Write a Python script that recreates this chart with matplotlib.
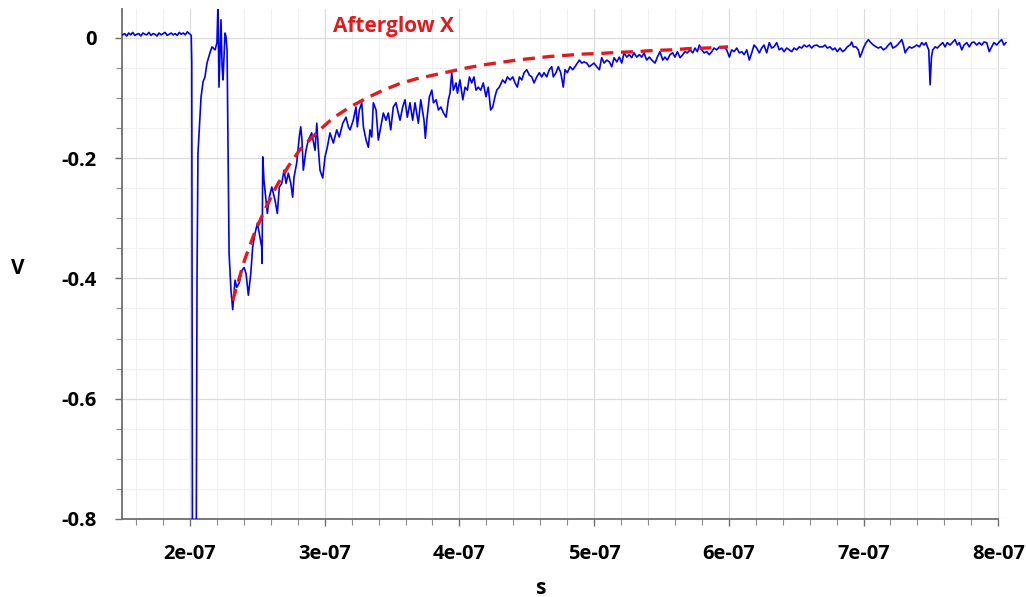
import matplotlib
matplotlib.use("Agg")
import matplotlib.pyplot as plt
from matplotlib.ticker import MultipleLocator, FuncFormatter

plt.rcParams["font.family"] = ["Open Sans", "DejaVu Sans"]

# ── Data (time in ns, signal in V) ───────────────────────────────────────────
trace_t_ns = [
    150.0, 151.5, 153.0, 154.5, 156.0, 157.5, 159.0, 160.5, 162.0, 163.5,
    165.0, 166.5, 168.0, 169.5, 171.0, 172.5, 174.0, 175.5, 177.0, 178.5,
    180.0, 181.5, 183.0, 184.5, 186.0, 187.5, 189.0, 190.5, 192.0, 193.5,
    195.0, 196.5, 198.0, 199.5,
    200.9, 201.3, 201.8, 203.0, 204.6, 205.2, 205.9, 208.2, 209.7, 211.1,
    212.6, 214.8, 216.3, 218.6, 220.0, 220.8, 221.5, 222.3, 223.0, 223.8,
    224.5, 226.0, 226.7, 227.5, 229.0, 230.4, 231.7,
    233.4, 234.7, 236.6, 238.4, 240.1, 241.6, 243.3, 245.1, 246.5, 248.3,
    250.0, 251.4, 253.2, 253.5, 254.0, 254.9, 256.4, 257.4, 258.9, 260.7,
    263.1, 264.8, 266.3, 268.1, 269.8, 271.3, 273.0, 274.8, 276.2, 277.2,
    279.2, 281.1, 282.2, 283.1, 284.1, 286.1, 287.8, 290.3, 292.8, 294.1,
    295.2, 296.5, 298.5, 300.2, 301.9, 303.9, 306.4, 308.9, 310.8, 313.4,
    315.8, 317.5,
    318.8, 321.2, 323.2, 324.2, 325.7, 327.5, 328.7, 330.7, 332.4, 333.6,
    334.9, 336.1, 338.1, 339.8, 341.6, 343.5, 345.5, 347.2, 349.0, 350.9,
    352.9, 354.6, 355.9, 357.9, 359.6, 361.3, 363.3, 365.3, 367.0, 369.5,
    371.3, 372.8, 373.7, 374.7, 375.8, 377.7, 379.5, 380.7, 382.7, 384.4,
    386.2, 388.2, 390.1, 391.8, 393.0, 394.3, 395.5, 397.5, 398.5, 400.4,
    402.5, 404.2, 405.9, 407.4, 409.1, 410.8, 412.3, 414.0, 415.8, 417.7,
    419.7, 421.4, 423.2, 424.7, 426.4, 427.7, 429.6,
    432.1, 433.9, 435.6, 437.6, 439.6, 441.3, 443.0, 444.5, 446.3, 448.0,
    450.0, 451.9, 453.7, 455.4, 457.4, 459.3, 461.1, 462.8, 464.8, 466.7,
    468.5, 469.7, 471.7, 473.4, 475.2, 477.1, 478.4, 480.1, 482.1, 484.1,
    485.8, 487.5, 489.0, 490.8, 492.5, 494.5, 496.4, 498.2, 499.9, 501.9,
    503.9, 505.6, 507.4, 509.4, 511.3, 513.1, 514.8, 516.8, 518.7, 520.5,
    522.2, 524.2, 526.1, 527.9, 529.6, 531.6, 533.6, 535.3, 537.0, 539.0,
    541.0,
    542.8, 545.2, 546.9, 548.9, 550.9, 552.6, 554.3, 556.3, 558.3, 560.0,
    561.8, 563.8, 565.8, 567.5, 569.2, 571.2, 573.2, 574.9, 576.6, 578.1,
    579.9, 581.6, 583.6, 585.5, 587.3, 589.0, 591.0, 593.0, 594.7, 596.5,
    598.4, 600.4, 602.1, 603.9, 605.9, 607.8, 609.6, 611.3, 613.3, 615.2,
    617.0, 618.7, 620.7, 622.6, 624.4, 626.1, 628.1, 630.0, 631.8, 633.5,
    635.5, 637.4, 639.2, 641.0, 642.9, 644.9, 646.7, 648.4, 650.4, 652.3,
    654.1, 655.8, 657.8, 659.7, 661.5, 663.3, 665.3, 667.2,
    669.7, 671.4, 673.1, 675.1, 677.1, 678.8, 680.5, 682.5, 684.5, 686.2,
    687.9, 689.9, 691.2, 692.4, 694.4, 696.1, 697.4, 698.7, 699.9, 701.9,
    703.6, 705.4, 707.3, 709.3, 711.0, 712.8, 714.7, 716.7, 718.4, 720.2,
    721.7, 723.4, 725.1, 726.6, 728.4, 729.6, 730.9, 732.1, 734.0, 735.8,
    737.5, 739.5, 741.5, 743.2, 744.9, 746.4, 747.4, 748.4, 749.4, 750.4,
    751.4, 753.1, 754.8, 756.8, 758.8, 760.5, 762.2, 764.2, 766.2, 767.9,
    769.6, 771.1, 772.9, 774.6, 776.6, 778.5, 780.3, 782.0, 784.0, 785.9,
    787.7, 789.4, 791.4, 793.3, 795.1, 796.8, 798.8, 800.7, 802.5, 804.2,
    805.7,
]
trace_v = [
    0.005, 0.007, 0.003, 0.008, 0.005, 0.009, 0.004, 0.006, 0.007, 0.003,
    0.008, 0.006, 0.005, 0.009, 0.004, 0.007, 0.006, 0.003, 0.008, 0.005,
    0.007, 0.009, 0.004, 0.006, 0.008, 0.005, 0.007, 0.004, 0.009, 0.006,
    0.008, 0.005, 0.010, 0.007,
    0.004, -0.040, -0.860, -0.880, -0.860, -0.400, -0.192, -0.098, -0.073, -0.065,
    -0.042, -0.025, -0.015, -0.020, -0.008, 0.060, -0.082, -0.020, 0.030, -0.048,
    -0.070, 0.008, 0.002, -0.020, -0.358, -0.420, -0.452,
    -0.403, -0.415, -0.407, -0.387, -0.382, -0.392, -0.428, -0.392, -0.348, -0.325,
    -0.308, -0.325, -0.348, -0.375, -0.198, -0.237, -0.270, -0.292, -0.265, -0.248,
    -0.270, -0.292, -0.248, -0.242, -0.220, -0.242, -0.225, -0.242, -0.265, -0.232,
    -0.208, -0.165, -0.148, -0.170, -0.220, -0.187, -0.170, -0.158, -0.187, -0.142,
    -0.182, -0.220, -0.233, -0.198, -0.182, -0.158, -0.175, -0.153, -0.165, -0.142,
    -0.132, -0.148,
    -0.153, -0.137, -0.115, -0.148, -0.120, -0.108, -0.148, -0.170, -0.182, -0.153,
    -0.165, -0.108, -0.120, -0.170, -0.148, -0.125, -0.137, -0.125, -0.153, -0.115,
    -0.108, -0.125, -0.137, -0.115, -0.103, -0.132, -0.108, -0.137, -0.108, -0.142,
    -0.103, -0.125, -0.137, -0.167, -0.137, -0.098, -0.087, -0.108, -0.103, -0.120,
    -0.115, -0.125, -0.132, -0.103, -0.092, -0.058, -0.087, -0.075, -0.092, -0.070,
    -0.103, -0.082, -0.087, -0.065, -0.075, -0.065, -0.087, -0.082, -0.087, -0.075,
    -0.098, -0.082, -0.120, -0.115, -0.098, -0.087, -0.082,
    -0.070, -0.075, -0.065, -0.070, -0.065, -0.075, -0.082, -0.065, -0.070, -0.058,
    -0.053, -0.062, -0.065, -0.075, -0.065, -0.058, -0.065, -0.058, -0.065, -0.053,
    -0.048, -0.065, -0.058, -0.048, -0.058, -0.082, -0.053, -0.058, -0.048, -0.053,
    -0.048, -0.042, -0.037, -0.042, -0.040, -0.042, -0.048, -0.045, -0.042, -0.048,
    -0.053, -0.033, -0.042, -0.037, -0.040, -0.048, -0.033, -0.040, -0.032, -0.042,
    -0.025, -0.032, -0.028, -0.033, -0.025, -0.032, -0.028, -0.032, -0.025, -0.037,
    -0.032,
    -0.037, -0.042, -0.032, -0.023, -0.037, -0.032, -0.037, -0.028, -0.025, -0.032,
    -0.023, -0.033, -0.028, -0.023, -0.025, -0.020, -0.025, -0.017, -0.023, -0.012,
    -0.020, -0.025, -0.023, -0.028, -0.023, -0.017, -0.020, -0.015, -0.017, -0.015,
    -0.020, -0.032, -0.020, -0.023, -0.017, -0.025, -0.023, -0.028, -0.020, -0.037,
    -0.025, -0.012, -0.017, -0.025, -0.017, -0.012, -0.025, -0.008, -0.017, -0.015,
    -0.008, -0.020, -0.017, -0.023, -0.017, -0.020, -0.023, -0.017, -0.020, -0.015,
    -0.017, -0.012, -0.015, -0.012, -0.017, -0.013, -0.012, -0.015,
    -0.015, -0.012, -0.017, -0.015, -0.020, -0.017, -0.023, -0.017, -0.023, -0.020,
    -0.015, -0.012, -0.007, -0.015, -0.015, -0.020, -0.032, -0.025, -0.017, -0.008,
    -0.003, -0.008, -0.012, -0.015, -0.017, -0.015, -0.020, -0.017, -0.012, -0.008,
    -0.017, -0.015, -0.012, -0.008, -0.003, -0.012, -0.025, -0.020, -0.015, -0.017,
    -0.015, -0.012, -0.015, -0.008, -0.012, -0.008, -0.015, -0.020, -0.078, -0.032,
    -0.020, -0.015, -0.017, -0.012, -0.008, -0.015, -0.008, -0.012, -0.007, -0.003,
    -0.012, -0.008, -0.020, -0.012, -0.008, -0.015, -0.008, -0.007, -0.012, -0.008,
    -0.012, -0.007, -0.008, -0.023, -0.015, -0.008, -0.012, -0.007, -0.003, -0.012,
    -0.008,
]

# fitted afterglow decay (red dashed)
fit_t_ns = [231.7, 240.4, 247.8, 255.3, 263.9, 272.6, 281.2, 289.9, 297.3, 306.4,
            318.8, 331.2, 343.5, 355.9, 368.3, 380.6, 393.0, 405.4, 417.7, 430.1,
            442.5, 454.8, 467.3, 479.7, 492.0, 504.4, 519.2, 531.6, 543.9, 557.6,
            569.9, 583.6, 599.4]
fit_v = [-0.437, -0.370, -0.325, -0.287, -0.248, -0.215, -0.187, -0.167, -0.151, -0.133,
         -0.115, -0.100, -0.087, -0.076, -0.068, -0.062, -0.056, -0.050, -0.045, -0.041,
         -0.037, -0.034, -0.031, -0.029, -0.027, -0.026, -0.024, -0.023, -0.021, -0.020,
         -0.018, -0.017, -0.015]

x_ticks_s = [2e-7, 3e-7, 4e-7, 5e-7, 6e-7, 7e-7, 8e-7]
y_ticks_v = [0, -0.2, -0.4, -0.6, -0.8]

trace_t = [t * 1e-9 for t in trace_t_ns]
fit_t = [t * 1e-9 for t in fit_t_ns]

# ── Figure ───────────────────────────────────────────────────────────────────
fig = plt.figure(figsize=(10.26, 5.97), dpi=100, facecolor="white")
ax = fig.add_axes([0.1189, 0.1307, 0.8626, 0.8543])

ax.plot(trace_t, trace_v, color="#0000ff", lw=1.2, zorder=3)
ax.plot(fit_t, fit_v, color="#e4191c", lw=2.4, dashes=(3.6, 2.3), zorder=4)

ax.text(306e-9, 0.019, "Afterglow X", color="#e4191c", fontsize=15,
        fontweight="bold", ha="left", va="center")

ax.set_xlim(149.5e-9, 806.5e-9)
ax.set_ylim(-0.8, 0.048)

ax.set_xticks(x_ticks_s)
ax.set_yticks(y_ticks_v)
ax.xaxis.set_minor_locator(MultipleLocator(2e-8))
ax.yaxis.set_minor_locator(MultipleLocator(0.05))
ax.xaxis.set_major_formatter(FuncFormatter(lambda v, p: f"{v:.0e}"))
ax.yaxis.set_major_formatter(FuncFormatter(lambda v, p: "0" if abs(v) < 1e-9 else f"{v:.1f}"))

ax.grid(which="major", color="#dcdcdc", lw=0.9, zorder=0)
ax.grid(which="minor", color="#f0f0f0", lw=0.8, zorder=0)
ax.set_axisbelow(True)

for side in ["top", "right"]:
    ax.spines[side].set_visible(False)
for side in ["left", "bottom"]:
    ax.spines[side].set_color("#6e6e6e")
    ax.spines[side].set_linewidth(1.3)
ax.spines["bottom"].set_bounds(149.5e-9, 8e-7)

ax.tick_params(which="major", direction="out", length=5, width=1, color="#6e6e6e",
               labelsize=14.5, pad=13)
ax.tick_params(which="minor", direction="out", length=4, width=0.8, color="#8a8a8a")
for lab in ax.get_xticklabels() + ax.get_yticklabels():
    lab.set_fontweight("bold")

fig.text(18 / 1026, 1 - 268 / 597, "V", fontsize=15, fontweight="bold",
         ha="center", va="center")
fig.text(541 / 1026, 1 - 588 / 597, "s", fontsize=15, fontweight="bold",
         ha="center", va="center")

plt.savefig("out.png", dpi=100, facecolor="white")
